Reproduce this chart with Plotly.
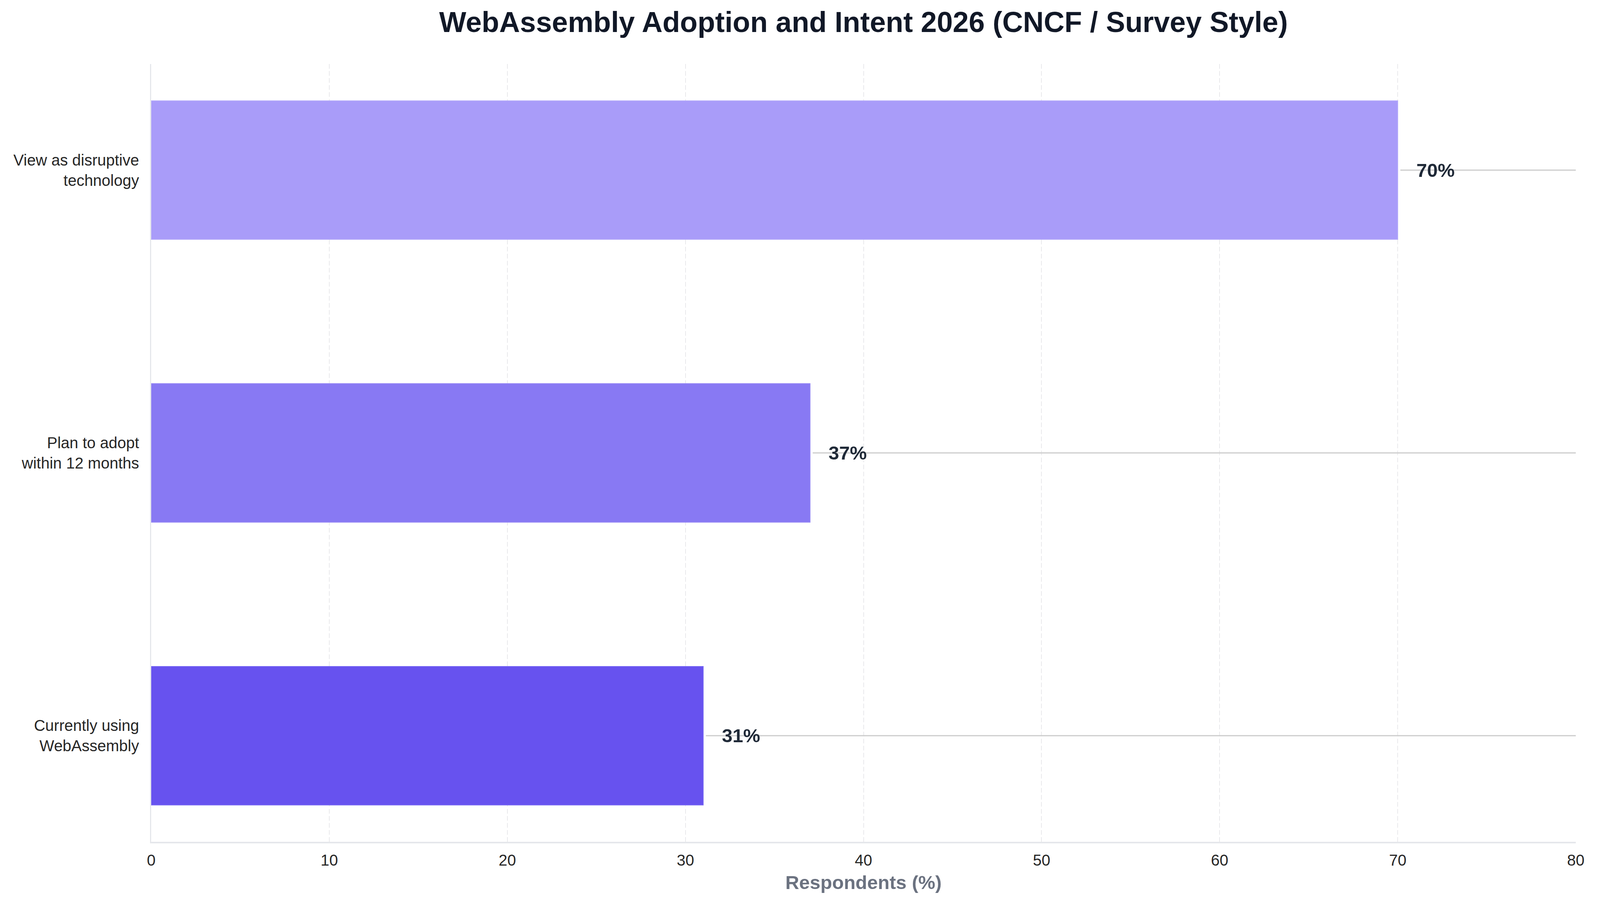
import plotly.graph_objects as go

# survey answers, bottom to top
categories = ['Currently using WebAssembly', 'Plan to adopt within 12 months',
              'View as disruptive technology']
tick_labels = ['Currently using<br>WebAssembly', 'Plan to adopt<br>within 12 months',
               'View as disruptive<br>technology']
values = [31, 37, 70]
bar_colors = ['#6752ef', '#8879f3', '#a99cf9']
edge_colors = ['#7565f3', '#9486f5', '#b3a8fa']
x_ticks = [0, 10, 20, 30, 40, 50, 60, 70, 80]

FONT = 'Liberation Sans, Arial, Helvetica, sans-serif'
W, H = 4060, 2290

fig = go.Figure()

fig.add_trace(go.Bar(
    x=values, y=categories, orientation='h',
    width=0.49,
    marker=dict(color=bar_colors, line=dict(color=edge_colors, width=2)),
    hoverinfo='skip', showlegend=False))

# thin leader lines from the end of each bar out to the right edge
for cat, val in zip(categories, values):
    fig.add_trace(go.Scatter(
        x=[val + 0.15, x_ticks[-1]], y=[cat, cat], mode='lines',
        line=dict(color='#cccccc', width=3),
        hoverinfo='skip', showlegend=False))

for cat, val in zip(categories, values):
    fig.add_annotation(
        x=val + 1, y=cat, text=f'{val}%', showarrow=False,
        xanchor='left', yanchor='middle',
        font=dict(family=FONT, size=49, color='#1f2937', weight='bold'))

fig.update_layout(
    width=W, height=H,
    margin=dict(l=379, r=29, t=156, b=142),
    paper_bgcolor='white', plot_bgcolor='white',
    font=dict(family=FONT, color='#262626'),
    title=dict(
        text='WebAssembly Adoption and Intent 2026 (CNCF / Survey Style)',
        x=0.5, xref='paper', xanchor='center',
        y=1 - 48.5 / H, yref='container', yanchor='middle',
        font=dict(family=FONT, size=73.5, color='#111827', weight='bold')),
)

fig.update_xaxes(
    range=[0, 80], tickvals=x_ticks, ticks='',
    tickfont=dict(size=40, color='#262626'), ticklabelstandoff=9,
    showgrid=True, gridcolor='#e9e9ec', gridwidth=2, griddash='12px,6px',
    zeroline=False, showline=True, linecolor='#e5e7eb', linewidth=4,
    title=dict(text='Respondents (%)', standoff=20,
               font=dict(family=FONT, size=49, color='#6b7280', weight='bold')),
)

fig.update_yaxes(
    categoryorder='array', categoryarray=categories,
    tickvals=categories, ticktext=tick_labels,
    range=[-0.375, 2.375], ticks='',
    tickfont=dict(size=40, color='#262626'), ticklabelstandoff=20,
    showgrid=False, zeroline=False,
    showline=True, linecolor='#e5e7eb', linewidth=3,
)

fig.write_html('out.html')
